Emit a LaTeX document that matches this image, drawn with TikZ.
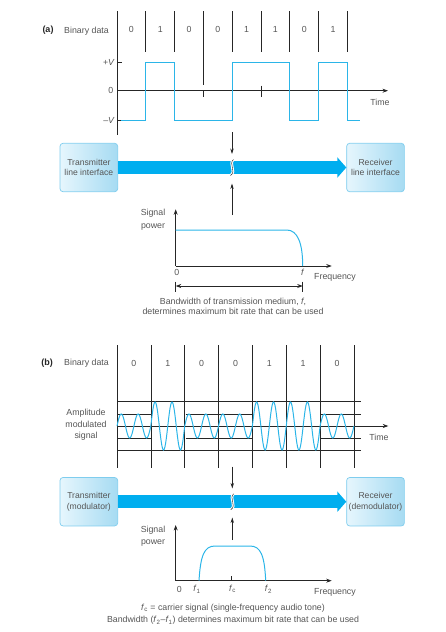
\documentclass[tikz,border=0pt]{standalone}
\usepackage{fontspec}
\setmainfont{Liberation Sans}
\usetikzlibrary{arrows.meta}
\definecolor{sig}{HTML}{2BB5E8}
\definecolor{band}{HTML}{00AEEF}
\definecolor{boxl}{HTML}{E6F6FD}
\definecolor{boxr}{HTML}{A6DBF2}
\definecolor{boxb}{HTML}{7FCDEE}
\definecolor{txt}{HTML}{555555}
\definecolor{ln}{HTML}{262626}
\begin{document}
\begin{tikzpicture}[x=1pt,y=-1pt,
  lbl/.style={text=txt,font=\fontsize{8.8}{10}\selectfont,inner sep=0pt},
  tag/.style={text=ln,font=\bfseries\fontsize{9}{10}\selectfont,inner sep=0pt},
  ifbox/.style={draw=boxb,line width=0.7pt,rounded corners=3pt,left color=boxl,right color=boxr,
     minimum width=57.7pt,minimum height=48.4pt,align=center,text=txt,
     font=\fontsize{8.6}{10.6}\selectfont,inner sep=0pt},
  axis/.style={ln,line width=0.7pt},
  axarrow/.style={ln,line width=0.7pt,-{Stealth[length=5.5pt,width=4pt]}},
  chan/.style={ln,line width=0.7pt,-{Stealth[length=5.5pt,width=3.4pt]}},
  wave/.style={sig,line width=1pt},
  fatarrow/.style={band,line width=13.3pt,-{Triangle[length=9pt,width=20pt]}}
]
\useasboundingbox (0,0) rectangle (446,632);

% ================= (a) =================
\node[tag] (tagA) at (48,30.5) {(a)};
\node[lbl] (bdA) at (86.5,31.5) {Binary data};
% bit boundaries
\foreach \i in {1,2,4,5,6,7,8} \draw[axis] ({117+28.8*\i},11) -- ({117+28.8*\i},52);
\draw[axis] (203.4,11) -- (203.4,85);
\draw[axis] (117,11) -- (117,135);
\foreach \b [count=\i from 0] in {0,1,0,0,1,1,0,1}
  \node[lbl] (bitA\i) at ({131.4+28.8*\i},29.3) {\b};
% axes
\coordinate (tA0) at (117,90.7);
\coordinate (tA1) at (388,90.7);
\draw[axarrow] (tA0) -- (tA1);
\node[lbl] (timeA) at (380,102) {Time};
\draw[axis] (203.4,90.7) -- (203.4,96.5);
\draw[axis] (261,85.5) -- (261,96.5);
\draw[axis] (117,62.7) -- (121.7,62.7);
\draw[axis] (117,120) -- (121.7,120);
\node[lbl,anchor=east] (pV) at (115,62.7) {+\textit{V}};
\node[lbl,anchor=east] (zV) at (113.5,90.7) {0};
\node[lbl,anchor=east] (mV) at (115,120) {–\textit{V}};
% signal
\draw[wave] (121,120) -| (145.8,62.7) -| (174.6,120) -| (232.2,62.7) -| (289.8,120)
   -| (318.6,62.7) -| (347.4,120) -- (360,120);

% channel
\node[ifbox] (txA) at (88.85,167.5) {Transmitter\\line interface};
\node[ifbox] (rxA) at (375.5,167.5) {Receiver\\line interface};
\draw[fatarrow] (txA.east) -- (rxA.west);
\coordinate (brkA) at (232,167.5);
\draw[white,line width=2.6pt] (233.5,159.5) .. controls (228,164) and (237,171) .. (230.5,175.5);
\draw[ln,line width=0.4pt] (233.5,159.5) .. controls (228,164) and (237,171) .. (230.5,175.5);
\coordinate (dA0) at (232,132);
\coordinate (dA1) at (232,154);
\coordinate (uA0) at (232,215);
\coordinate (uA1) at (232,183.5);
\draw[chan] (dA0) -- (dA1);
\draw[chan] (uA0) -- (uA1);

% spectrum (a)
\coordinate (oA) at (175.7,266);
\draw[axarrow] (oA) -- (175.7,209.3);
\draw[axarrow] (oA) -- (331.7,266);
\node[lbl,align=center,font=\fontsize{8.8}{13.3}\selectfont] (spA) at (153,220) {Signal\\power};
\draw[wave] (175.7,230) -- (286.7,230) .. controls (297.5,230) and (302.7,243) .. (302.7,266);
\node[lbl] (zA) at (176.7,272.7) {0};
\node[lbl] (fA) at (302.7,272.7) {\textit{f}};
\node[lbl] (frA) at (335,277.3) {Frequency};
\draw[axis] (175.7,281.7) -- (175.7,291.7);
\draw[axis] (302.7,281.7) -- (302.7,291.7);
\draw[ln,line width=0.7pt,{Stealth[length=5.5pt,width=4pt]}-{Stealth[length=5.5pt,width=4pt]}] (175.7,286) -- (302.7,286);
\node[lbl,align=center,font=\fontsize{8.8}{10.7}\selectfont] (capA) at (233,306.3)
  {Bandwidth of transmission medium, \textit{f},\\determines maximum bit rate that can be used};

% ================= (b) =================
\node[tag] (tagB) at (47,363.3) {(b)};
\node[lbl] (bdB) at (86.5,363.3) {Binary data};
\foreach \i in {0,...,7} \draw[axis] ({117+33.85*\i},345) -- ({117+33.85*\i},468.3);
\foreach \b [count=\i from 0] in {0,1,0,0,1,1,0}
  \node[lbl] (bitB\i) at ({133.9+33.85*\i},363.3) {\b};
% envelope lines
\draw[axis] (117,401.7) -- (360.7,401.7);
\draw[axis] (117,450.3) -- (360.7,450.3);
\draw[axis] (117,414) -- (151.85,414);
\draw[axis] (185.7,414) -- (252.4,414);
\draw[axis] (320.1,414) -- (360.7,414);
\draw[axis] (117,438) -- (151.85,438);
\draw[axis] (185.7,438) -- (252.4,438);
\draw[axis] (320.1,438) -- (360.7,438);
\coordinate (tB0) at (117,426);
\coordinate (tB1) at (388.3,426);
\draw[axarrow] (tB0) -- (tB1);
\node[lbl] (timeB) at (379,437.3) {Time};
\node[lbl,align=center,font=\fontsize{8.8}{11.7}\selectfont] (amB) at (86,425) {Amplitude\\modulated\\signal};
% AM wave
\draw[wave] (117,426)
  \foreach \i/\a [evaluate=\i as \xs using 117+33.85*\i, evaluate=\i as \xe using 117+33.85*(\i+1)]
   in {0/12,1/24,2/12,3/12,4/24,5/24,6/12}
  { -- plot[domain=\xs:\xe,samples=49] (\x,{426-\a*sin(((\x-117)/33.85)*720)}) };

% channel (b)
\node[ifbox] (txB) at (88.85,501.7) {Transmitter\\(modulator)};
\node[ifbox] (rxB) at (375.5,501.7) {Receiver\\(demodulator)};
\draw[fatarrow] (txB.east) -- (rxB.west);
\coordinate (brkB) at (232.3,501.7);
\draw[white,line width=2.6pt] (233.8,493.7) .. controls (228.3,498.2) and (237.3,505.2) .. (230.8,509.7);
\draw[ln,line width=0.4pt] (233.8,493.7) .. controls (228.3,498.2) and (237.3,505.2) .. (230.8,509.7);
\coordinate (dB0) at (232.3,466.7);
\coordinate (dB1) at (232.3,488.5);
\coordinate (uB0) at (232.3,540);
\coordinate (uB1) at (232.3,517.5);
\draw[chan] (dB0) -- (dB1);
\draw[chan] (uB0) -- (uB1);

% spectrum (b)
\coordinate (oB) at (175.7,580.7);
\draw[axarrow] (oB) -- (175.7,525);
\draw[axarrow] (oB) -- (331.7,580.7);
\node[lbl,align=center,font=\fontsize{8.8}{12.7}\selectfont] (spB) at (153,536.3) {Signal\\power};
\draw[wave] (199,580.7) .. controls (200.5,556) and (204,546) .. (215,546) -- (250,546)
   .. controls (261,546) and (264.5,556) .. (265.7,580.7);
\draw[axis] (231.7,576) -- (231.7,580.7);
\node[lbl] (zB) at (179.3,589.3) {0};
\node[lbl] (f1B) at (197,589.3) {\textit{f}\textsubscript{1}};
\node[lbl] (fcB) at (232.5,589.3) {\textit{f}\textsubscript{c}};
\node[lbl] (f2B) at (268.5,589.3) {\textit{f}\textsubscript{2}};
\node[lbl] (frB) at (335,592.7) {Frequency};
\node[lbl,align=center,font=\fontsize{8.8}{12.4}\selectfont] (capB) at (233,614.5)
  {\textit{f}\textsubscript{c} = carrier signal (single-frequency audio tone)\\
   Bandwidth (\textit{f}\textsubscript{2}–\textit{f}\textsubscript{1}) determines maximum bit rate that can be used};
\end{tikzpicture}
\end{document}
